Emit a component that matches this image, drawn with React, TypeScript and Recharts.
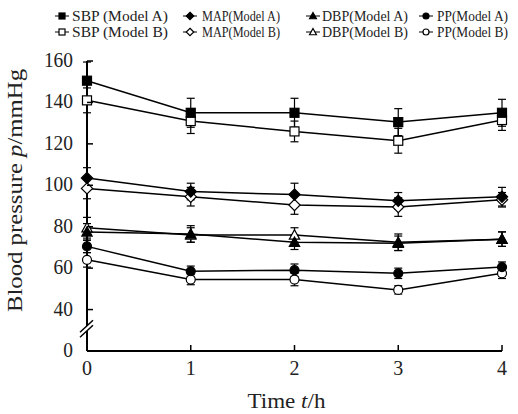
import React from 'react'
import { LineChart, Line, XAxis, YAxis, ErrorBar, ReferenceDot } from 'recharts'

// time points (h)
const times = [0, 1, 2, 3, 4]
const xTicks = [0, 1, 2, 3, 4]
// the y axis is broken between 0 and 40, so "0" sits one step below 40
const yTicks = [20, 40, 60, 80, 100, 120, 140, 160]
const yTickLabels = ['0', '40', '60', '80', '100', '120', '140', '160']
const breakValue = 31

const sbpA = [150.5, 135, 135, 130.5, 135]
const sbpAErr = [9, 7, 7, 6.5, 6.5]
const sbpB = [141, 131, 126, 121.5, 131.5]
const sbpBErr = [6, 6, 5, 6, 5]
const mapA = [103.5, 97, 95.5, 92.5, 94.5]
const mapAErr = [5, 4, 5.5, 4, 4.5]
const mapB = [98.5, 94.5, 90.5, 89.5, 93]
const mapBErr = [5, 4.5, 4.5, 4.5, 3.5]
const dbpA = [77.5, 76.5, 72.5, 72, 74]
const dbpAErr = [4, 4, 3.5, 3.5, 3.5]
const dbpB = [79.5, 76, 76, 72.5, 74]
const dbpBErr = [5, 3.5, 3.5, 4, 3.5]
const ppA = [70.5, 58.5, 59, 57.5, 60.5]
const ppAErr = [3, 2.5, 3, 2.5, 2.5]
const ppB = [64, 54.5, 54.5, 49.5, 57.5]
const ppBErr = [3.5, 2.5, 3, 2, 2.5]

const legendNames = [
  ['SBP (Model A)', 'MAP(Model A)', 'DBP(Model A)', 'PP(Model A)'],
  ['SBP (Model B)', 'MAP(Model B)', 'DBP(Model B)', 'PP(Model B)'],
]

type Kind = 'square' | 'diamond' | 'triangle' | 'circle'

const series: { key: string; kind: Kind; filled: boolean }[] = [
  { key: 'sbpB', kind: 'square', filled: false },
  { key: 'mapB', kind: 'diamond', filled: false },
  { key: 'dbpB', kind: 'triangle', filled: false },
  { key: 'ppB', kind: 'circle', filled: false },
  { key: 'sbpA', kind: 'square', filled: true },
  { key: 'mapA', kind: 'diamond', filled: true },
  { key: 'dbpA', kind: 'triangle', filled: true },
  { key: 'ppA', kind: 'circle', filled: true },
]

const data = times.map((t, i) => ({
  t,
  sbpA: sbpA[i], sbpAErr: sbpAErr[i],
  sbpB: sbpB[i], sbpBErr: sbpBErr[i],
  mapA: mapA[i], mapAErr: mapAErr[i],
  mapB: mapB[i], mapBErr: mapBErr[i],
  dbpA: dbpA[i], dbpAErr: dbpAErr[i],
  dbpB: dbpB[i], dbpBErr: dbpBErr[i],
  ppA: ppA[i], ppAErr: ppAErr[i],
  ppB: ppB[i], ppBErr: ppBErr[i],
}))

const fontStyle = { fontFamily: '"Liberation Serif"' }

const Marker = ({ cx, cy, kind, filled, s }: { cx: number; cy: number; kind: Kind; filled: boolean; s: number }) => {
  const fill = filled ? '#000' : '#fff'
  const h = s / 2
  if (kind === 'square') {
    return <rect x={cx - h} y={cy - h} width={s} height={s} fill={fill} stroke="#000" strokeWidth={1.2} />
  }
  if (kind === 'diamond') {
    const d = h * 1.25
    return <polygon points={`${cx},${cy - d} ${cx + d},${cy} ${cx},${cy + d} ${cx - d},${cy}`} fill={fill} stroke="#000" strokeWidth={1.2} />
  }
  if (kind === 'triangle') {
    const d = h * 1.15
    return <polygon points={`${cx},${cy - d} ${cx + d},${cy + d * 0.8} ${cx - d},${cy + d * 0.8}`} fill={fill} stroke="#000" strokeWidth={1.2} />
  }
  return <circle cx={cx} cy={cy} r={h} fill={fill} stroke="#000" strokeWidth={1.2} />
}

const YTick = (props: any) => {
  const { x, y, index } = props
  return (
    <g>
      <line x1={x} y1={y} x2={x + 6} y2={y} stroke="#000" strokeWidth={1.5} />
      <text x={x - 14} y={y + 6} textAnchor="end" fontSize={20} style={fontStyle} fill="#222"
        textLength={yTickLabels[index].length * 9.7} lengthAdjust="spacingAndGlyphs">
        {yTickLabels[index]}
      </text>
    </g>
  )
}

const XTick = (props: any) => {
  const { x, y, payload } = props
  return (
    <g>
      <line x1={x} y1={y} x2={x} y2={y - 6} stroke="#000" strokeWidth={1.5} />
      <text x={x} y={y + 24} textAnchor="middle" fontSize={20} style={fontStyle} fill="#222">
        {payload.value}
      </text>
    </g>
  )
}

const AxisBreak = (props: any) => {
  const { cx, cy } = props
  return (
    <g>
      <polygon points={`${cx - 7},${cy + 4} ${cx + 6},${cy - 8} ${cx + 6},${cy - 3} ${cx - 7},${cy + 9}`} fill="#fff" />
      <line x1={cx - 7} y1={cy + 4} x2={cx + 6} y2={cy - 8} stroke="#000" strokeWidth={1.5} />
      <line x1={cx - 7} y1={cy + 9} x2={cx + 6} y2={cy - 3} stroke="#000" strokeWidth={1.5} />
    </g>
  )
}

const legendMarkX = [62, 190, 313, 426]
const legendTextX = [72, 202, 322, 437]
const legendTextW = [96, 78, 86, 71]
const legendKinds: Kind[] = ['square', 'diamond', 'triangle', 'circle']

const LegendBox = () => (
  <svg width={518} height={45} style={{ position: 'absolute', left: 0, top: 0 }}>
    {legendNames.map((row, r) =>
      row.map((name, c) => {
        const cy = 16 + r * 16
        return (
          <g key={`${r}-${c}`}>
            <line x1={legendMarkX[c] - 7} y1={cy} x2={legendMarkX[c] + 7} y2={cy} stroke="#000" strokeWidth={1} />
            <Marker cx={legendMarkX[c]} cy={cy} kind={legendKinds[c]} filled={r === 0} s={6} />
            <text x={legendTextX[c]} y={cy + 5} fontSize={15} style={fontStyle} fill="#222"
              textLength={legendTextW[c]} lengthAdjust="spacingAndGlyphs">
              {name}
            </text>
          </g>
        )
      })
    )}
  </svg>
)

export default function App() {
  return (
    <div style={{ position: 'absolute', left: 0, top: 0, width: 518, height: 414, background: '#fff' }}>
      <LineChart width={518} height={414} data={data} margin={{ top: 61, right: 16, bottom: 0, left: 0 }}>
        <XAxis
          dataKey="t"
          type="number"
          domain={[0, 4]}
          ticks={xTicks}
          height={63}
          tickSize={0}
          tickMargin={0}
          tick={<XTick />}
          axisLine={{ stroke: '#000', strokeWidth: 2 }}
          label={{
            content: (p: any) => (
              <text x={p.viewBox.x + p.viewBox.width / 2 - 8} y={408} textAnchor="middle" fontSize={21} style={fontStyle} fill="#222"
                textLength={78} lengthAdjust="spacingAndGlyphs">
                Time <tspan fontStyle="italic">t</tspan>/h
              </text>
            ),
          }}
        />
        <YAxis
          type="number"
          domain={[20, 160]}
          ticks={yTicks}
          width={87}
          tickSize={0}
          tickMargin={0}
          tick={<YTick />}
          axisLine={{ stroke: '#000', strokeWidth: 2 }}
          label={{
            content: () => (
              <text x={15} y={190.5} transform="rotate(-90 15 190.5)" textAnchor="middle" dominantBaseline="central"
                fontSize={21} style={fontStyle} fill="#222" textLength={243} lengthAdjust="spacingAndGlyphs">
                Blood pressure <tspan fontStyle="italic">p</tspan>/mmHg
              </text>
            ),
          }}
        />
        {series.map((s) => (
          <Line
            key={s.key}
            dataKey={s.key}
            type="linear"
            stroke="#000"
            strokeWidth={1.5}
            isAnimationActive={false}
            dot={(p: any) => <Marker key={`${s.key}-${p.index}`} cx={p.cx} cy={p.cy} kind={s.kind} filled={s.filled} s={9} />}
            activeDot={false}
          >
            <ErrorBar dataKey={`${s.key}Err`} direction="y" width={4} stroke="#000" strokeWidth={1.2} isAnimationActive={false} />
          </Line>
        ))}
        <ReferenceDot x={0} y={breakValue} r={0} ifOverflow="visible" shape={<AxisBreak />} />
      </LineChart>
      <LegendBox />
    </div>
  )
}
